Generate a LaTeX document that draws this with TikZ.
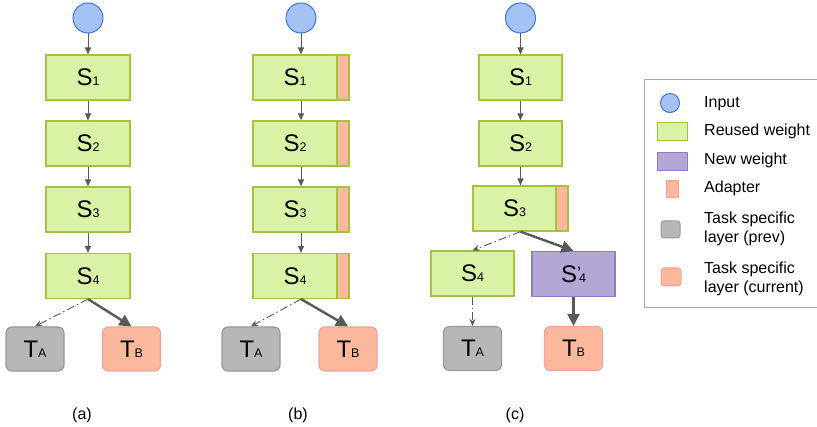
\documentclass[tikz,border=0pt]{standalone}
\usepackage{fontspec}
\setmainfont{Liberation Sans}
\usetikzlibrary{arrows.meta}
\definecolor{gfill}{HTML}{D9F2A5}
\definecolor{gdraw}{HTML}{A5C23C}
\definecolor{afill}{HTML}{FCB89C}
\definecolor{adraw}{HTML}{F4A486}
\definecolor{tbdraw}{HTML}{F2A0A0}
\definecolor{tafill}{HTML}{B7B7B7}
\definecolor{tadraw}{HTML}{999999}
\definecolor{pfill}{HTML}{B4A7D6}
\definecolor{pdraw}{HTML}{8E7CC3}
\definecolor{cfill}{HTML}{A4C2F4}
\definecolor{cdraw}{HTML}{3C78D8}
\definecolor{arr}{HTML}{5A5A5A}
\definecolor{lgdraw}{HTML}{A8A8A8}
\newcommand\Slab[1]{{\fontsize{24}{24}\selectfont S}{\fontsize{12.5}{12.5}\selectfont #1}}
\newcommand\Tlab[1]{{\fontsize{24}{24}\selectfont T}{\fontsize{12.5}{12.5}\selectfont #1}}
\newcommand\Sprime[1]{{\fontsize{24}{24}\selectfont S}\raisebox{3pt}{\fontsize{18}{18}\selectfont ’}\kern-2pt{\fontsize{12.5}{12.5}\selectfont #1}}
\tikzset{
  inp/.style={circle, draw=cdraw, fill=cfill, line width=1pt, minimum size=30pt, inner sep=0},
  sbox/.style={draw=gdraw, fill=gfill, line width=1.2pt, minimum width=84pt, minimum height=45pt, inner sep=0},
  abox/.style={sbox, minimum width=96pt,
    path picture={\fill[afill] ([xshift=-12pt]path picture bounding box.north east) rectangle (path picture bounding box.south east);
      \draw[gdraw, line width=1.2pt] ([xshift=-12pt]path picture bounding box.north east) -- ([xshift=-12pt]path picture bounding box.south east);}},
  nbox/.style={draw=pdraw, fill=pfill, line width=1.2pt, minimum width=83pt, minimum height=45pt, inner sep=0},
  tabox/.style={draw=tadraw, fill=tafill, line width=1.2pt, rounded corners=6pt, minimum width=58pt, minimum height=44pt, inner sep=0},
  tbbox/.style={draw=tbdraw, fill=afill, line width=1.2pt, rounded corners=6pt, minimum width=58pt, minimum height=44pt, inner sep=0},
  thinarr/.style={draw=arr, line width=1pt, -{Triangle[length=7pt,width=6pt]}},
  thickarr/.style={draw=arr, line width=2.4pt, -{Triangle[length=12pt,width=12pt]}},
  ddarr/.style={draw=arr, line width=0.9pt, dash pattern=on 8pt off 3pt on 1.5pt off 3pt, -{Stealth[length=7pt,width=6pt]}},
  lg/.style={anchor=base west, inner sep=0, font=\fontsize{16}{19}\selectfont},
  lgtwo/.style={anchor=west, inner sep=0, align=left, font=\fontsize{16}{19}\selectfont},
  captxt/.style={anchor=base, inner sep=0, font=\fontsize{16}{19}\selectfont}
}
\begin{document}
\begin{tikzpicture}[x=1pt,y=-1pt]
\clip (0,0) rectangle (817,427);
\fill[white] (0,0) rectangle (817,427);
% panel (a)
\node[inp] (ai) at (88,18) {};
\node[sbox] (a1) at (88,77.5) {\Slab{1}};
\node[sbox] (a2) at (88,143.5) {\Slab{2}};
\node[sbox] (a3) at (88,209.5) {\Slab{3}};
\node[sbox] (a4) at (88,276) {\Slab{4}};
\node[tabox] (ata) at (35,349) {\Tlab{A}};
\node[tbbox] (atb) at (131.5,349) {\Tlab{B}};
\draw[thinarr] (ai) -- (a1);
\draw[thinarr] (a1) -- (a2);
\draw[thinarr] (a2) -- (a3);
\draw[thinarr] (a3) -- (a4);
\draw[ddarr] (a4.south) -- (ata.north);
\draw[thickarr] (a4.south) -- (atb.north);
\node[captxt] (capa) at (82,420) {(a)};
% panel (b)
\node[inp] (bi) at (301,18) {};
\node[abox] (b1) at (301,77.5) {\makebox[84pt]{\Slab{1}}\makebox[12pt]{}};
\node[abox] (b2) at (301,143.5) {\makebox[84pt]{\Slab{2}}\makebox[12pt]{}};
\node[abox] (b3) at (301,209.5) {\makebox[84pt]{\Slab{3}}\makebox[12pt]{}};
\node[abox] (b4) at (301,276) {\makebox[84pt]{\Slab{4}}\makebox[12pt]{}};
\node[tabox] (bta) at (251,349) {\Tlab{A}};
\node[tbbox] (btb) at (348,349) {\Tlab{B}};
\draw[thinarr] (bi) -- (b1);
\draw[thinarr] (b1) -- (b2);
\draw[thinarr] (b2) -- (b3);
\draw[thinarr] (b3) -- (b4);
\draw[ddarr] (b4.south) -- (bta.north);
\draw[thickarr] (b4.south) -- (btb.north);
\node[captxt] (capb) at (298,420) {(b)};
% panel (c)
\node[inp] (ci) at (520.5,18) {};
\node[sbox, minimum width=83pt] (c1) at (520.5,77.5) {\Slab{1}};
\node[sbox, minimum width=83pt] (c2) at (520.5,143.5) {\Slab{2}};
\node[abox, minimum width=95pt] (c3) at (520.5,208.5) {\makebox[83pt]{\Slab{3}}\makebox[12pt]{}};
\node[sbox, minimum width=83pt] (c4) at (472.5,273.5) {\Slab{4}};
\node[nbox] (c4p) at (573.5,274) {\Sprime{4}};
\node[tabox] (cta) at (472.5,348.5) {\Tlab{A}};
\node[tbbox] (ctb) at (573.5,348.5) {\Tlab{B}};
\draw[thinarr] (ci) -- (c1);
\draw[thinarr] (c1) -- (c2);
\draw[thinarr] (c2) -- (c3);
\draw[ddarr] (c3.south) -- (c4.north);
\draw[thickarr] (c3.south) -- (c4p.north);
\draw[ddarr] (c4) -- (cta);
\draw[thickarr] (c4p) -- (ctb);
\node[captxt] (capc) at (515,420) {(c)};
% legend
\draw[lgdraw, line width=1pt] (644,80) rectangle (840,308);
\node[circle, draw=cdraw, fill=cfill, line width=1pt, minimum size=19pt, inner sep=0] (li) at (670,103) {};
\draw[gdraw, fill=gfill, line width=1pt] (657,123) rectangle (687,141);
\draw[pdraw, fill=pfill, line width=1pt] (657,153) rectangle (687,171);
\draw[adraw, fill=afill, line width=1pt] (666,181) rectangle (678,198);
\draw[tadraw, fill=tafill, line width=1pt, rounded corners=3pt] (661,221) rectangle (680,238);
\draw[tbdraw, fill=afill, line width=1pt, rounded corners=3pt] (661,268) rectangle (681,286);
\node[lg] (t1) at (704,107.5) {Input};
\node[lg] (t2) at (704,136) {Reused weight};
\node[lg] (t3) at (704,164.5) {New weight};
\node[lg] (t4) at (704,193) {Adapter};
\node[lgtwo] (t5) at (704,228.5) {Task specific\\layer (prev)};
\node[lgtwo] (t6) at (704,278.5) {Task specific\\layer (current)};
\end{tikzpicture}
\end{document}
